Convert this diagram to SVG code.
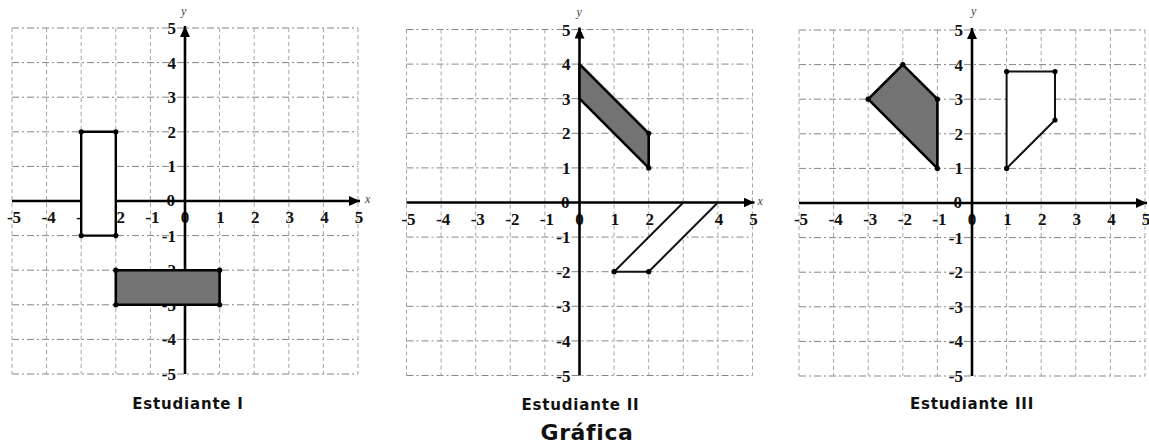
<svg xmlns="http://www.w3.org/2000/svg" xmlns:xlink="http://www.w3.org/1999/xlink" width="1149" height="444" viewBox="0 0 1149 444">
<style>
.gh{stroke:#858585;stroke-width:1;stroke-dasharray:7 3 2 3;fill:none}
.gv{stroke:#a4a4a4;stroke-width:1;stroke-dasharray:4 3;fill:none}
.ax{stroke:#000;stroke-width:2.6;fill:none}
.tk{font-family:"Liberation Serif",serif;font-weight:bold;font-size:17px;fill:#111}
.xl{text-anchor:middle}
.yl{text-anchor:end}
.lab{font-family:"Liberation Serif",serif;font-style:italic;font-size:12px;fill:#444}
.sh{fill:#737373;stroke:#000;stroke-width:2.6;stroke-linejoin:round}
.wh{fill:#fff;stroke:#000;stroke-width:2.4;stroke-linejoin:round}
.ln{fill:none;stroke:#111;stroke-width:2;stroke-linejoin:round}
.nf{fill:#fff;stroke:none}
.dot{fill:#000}
.ttl{font-family:"DejaVu Sans",sans-serif;font-weight:bold;font-size:15px;letter-spacing:0.8px;text-anchor:middle;fill:#111}
.big{font-family:"DejaVu Sans",sans-serif;font-weight:bold;font-size:22px;letter-spacing:0.6px;text-anchor:middle;fill:#111}
</style>
<defs>
<marker id="arr" markerUnits="userSpaceOnUse" markerWidth="12" markerHeight="10" refX="11" refY="5" orient="auto">
<path d="M0,0 L11,5 L0,10 z" fill="#000"/>
</marker>
<g id="grid">
<path class="gh" d="M-173,-173H173M-173,-138.4H173M-173,-103.8H173M-173,-69.2H173M-173,-34.6H173M-173,34.6H173M-173,69.2H173M-173,103.8H173M-173,138.4H173M-173,173H173"/>
<path class="gv" d="M-173,-173V173M-138.4,-173V173M-103.8,-173V173M-69.2,-173V173M-34.6,-173V173M34.6,-173V173M69.2,-173V173M103.8,-173V173M138.4,-173V173M173,-173V173"/>
</g>
<g id="ticks">
<text class="tk xl" x="-171" y="22">-5</text>
<text class="tk xl" x="-136.4" y="22">-4</text>
<text class="tk xl" x="-101.8" y="22">-3</text>
<text class="tk xl" x="-67.2" y="22">-2</text>
<text class="tk xl" x="-32.6" y="22">-1</text>
<text class="tk xl" x="0" y="22">0</text>
<text class="tk xl" x="35.6" y="22">1</text>
<text class="tk xl" x="70.2" y="22">2</text>
<text class="tk xl" x="104.8" y="22">3</text>
<text class="tk xl" x="139.4" y="22">4</text>
<text class="tk xl" x="174" y="22">5</text>
<text class="tk yl" x="-9" y="-167">5</text>
<text class="tk yl" x="-9" y="-132.4">4</text>
<text class="tk yl" x="-9" y="-97.8">3</text>
<text class="tk yl" x="-9" y="-63.2">2</text>
<text class="tk yl" x="-9" y="-28.6">1</text>
<text class="tk yl" x="-10" y="5">0</text>
<text class="tk yl" x="-9" y="40.6">-1</text>
<text class="tk yl" x="-9" y="75.2">-2</text>
<text class="tk yl" x="-9" y="109.8">-3</text>
<text class="tk yl" x="-9" y="144.4">-4</text>
<text class="tk yl" x="-9" y="179">-5</text>
</g>
<g id="axes">
<line class="ax" x1="-173" y1="0" x2="175" y2="0" marker-end="url(#arr)"/>
<line class="ax" x1="0" y1="173" x2="0" y2="-175" marker-end="url(#arr)"/>
</g>
</defs>

<g id="estudiante1" transform="translate(185,201)">
<use href="#grid"/>
<use href="#ticks"/>
<use href="#axes"/>
<text class="lab" x="-4" y="-186">y</text>
<text class="lab" x="180" y="2">x</text>
<rect class="wh" x="-103.8" y="-69.2" width="34.6" height="103.8"/>
<rect class="sh" x="-69.2" y="69.2" width="103.8" height="34.6"/>
<g class="dot">
<circle cx="-103.8" cy="-69.2" r="2.6"/><circle cx="-69.2" cy="-69.2" r="2.6"/>
<circle cx="-103.8" cy="34.6" r="2.6"/><circle cx="-69.2" cy="34.6" r="2.6"/>
<circle cx="-69.2" cy="69.2" r="2.6"/><circle cx="34.6" cy="69.2" r="2.6"/>
<circle cx="-69.2" cy="103.8" r="2.6"/><circle cx="34.6" cy="103.8" r="2.6"/>
</g>
<text class="ttl" x="3" y="208">Estudiante I</text>
</g>

<g id="estudiante2" transform="translate(579.5,202.5)">
<use href="#grid"/>
<use href="#ticks"/>
<polygon class="nf" points="103.8,1.4 34.6,69.2 69.2,69.2 138.4,1.4"/>
<use href="#axes"/>
<text class="lab" x="-3" y="-187">y</text>
<text class="lab" x="178" y="2">x</text>
<polygon class="sh" points="0,-138.4 69.2,-69.2 69.2,-34.6 0,-103.8"/>
<polyline class="ln" points="103.8,0 34.6,69.2 69.2,69.2 138.4,0"/>
<g class="dot">
<circle cx="69.2" cy="-69.2" r="2.6"/><circle cx="69.2" cy="-34.6" r="2.6"/>
<circle cx="34.6" cy="69.2" r="2.6"/><circle cx="69.2" cy="69.2" r="2.6"/>
</g>
<text class="ttl" x="1" y="207">Estudiante II</text>
</g>

<g id="estudiante3" transform="translate(972,203)">
<use href="#grid"/>
<use href="#ticks"/>
<polygon class="nf" points="34.6,-131.5 83,-131.5 83,-83 34.6,-34.6"/>
<use href="#axes"/>
<text class="lab" x="-1" y="-188">y</text>
<polygon class="sh" points="-69.2,-138.4 -34.6,-103.8 -34.6,-34.6 -103.8,-103.8"/>
<polygon class="ln" points="34.6,-131.5 83,-131.5 83,-83 34.6,-34.6"/>
<g class="dot">
<circle cx="-69.2" cy="-138.4" r="2.6"/><circle cx="-34.6" cy="-103.8" r="2.6"/>
<circle cx="-34.6" cy="-34.6" r="2.6"/><circle cx="-103.8" cy="-103.8" r="2.6"/>
<circle cx="34.6" cy="-131.5" r="2.6"/><circle cx="83" cy="-131.5" r="2.6"/>
<circle cx="83" cy="-83" r="2.6"/><circle cx="34.6" cy="-34.6" r="2.6"/>
</g>
<text class="ttl" x="0" y="206">Estudiante III</text>
</g>

<g id="titulo">
<text class="big" x="587" y="440">Gráfica</text>
</g>
</svg>
